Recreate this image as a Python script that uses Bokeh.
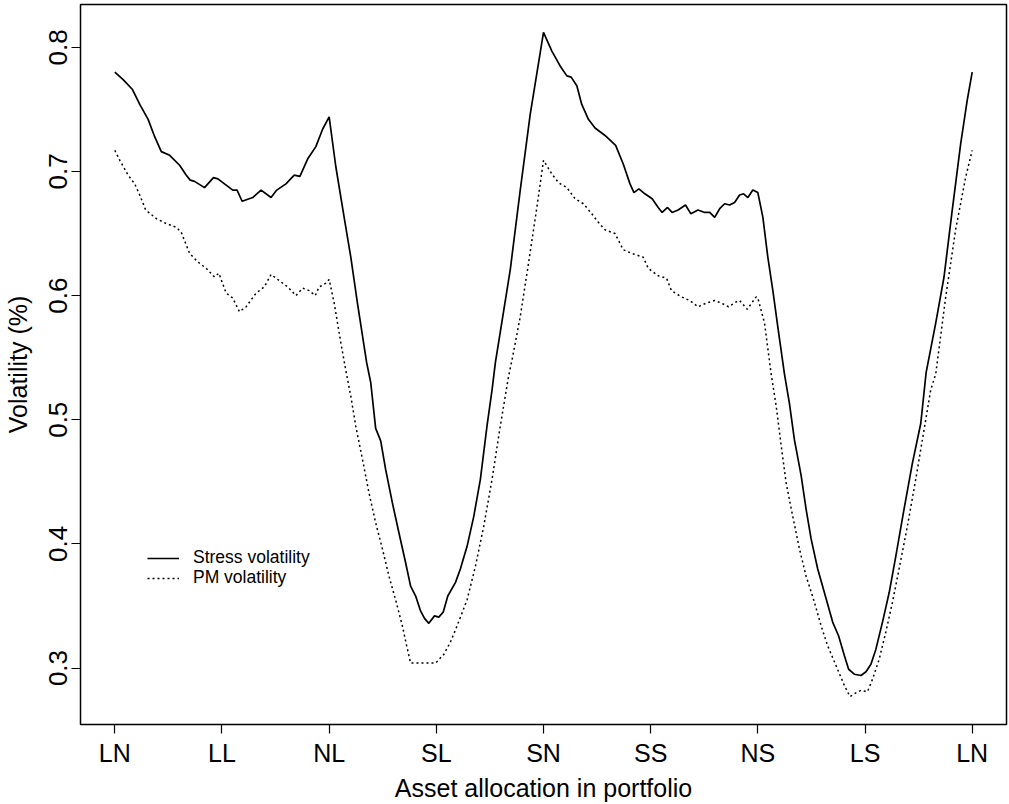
from bokeh.plotting import figure
from bokeh.models import Range1d, FixedTicker, Legend, LegendItem
from bokeh.embed import file_html
from bokeh.resources import INLINE

# Portfolio allocations along the path (tick positions 0..8)
allocations = ["LN", "LL", "NL", "SL", "SN", "SS", "NS", "LS", "LN"]
y_ticks = [0.3, 0.4, 0.5, 0.6, 0.7, 0.8]

# Stress volatility along the allocation path
stress_x = [0.0, 0.078, 0.165, 0.233, 0.311, 0.372, 0.434, 0.512, 0.605, 0.667,
            0.704, 0.744, 0.837, 0.921, 0.962, 1.039, 1.101, 1.141, 1.188, 1.287,
            1.365, 1.458, 1.511, 1.597, 1.674, 1.727, 1.799, 1.876, 1.939, 2.0,
            2.062, 2.140, 2.202, 2.264, 2.35, 2.388, 2.434, 2.481, 2.527, 2.590,
            2.651, 2.713, 2.760, 2.807, 2.853, 2.890, 2.930, 2.983, 3.023, 3.064,
            3.107, 3.179, 3.225, 3.287, 3.349, 3.411, 3.473, 3.520, 3.551, 3.690,
            3.783, 3.876, 4.0, 4.078, 4.155, 4.218, 4.258, 4.311, 4.357, 4.419,
            4.481, 4.574, 4.636, 4.673, 4.744, 4.807, 4.844, 4.890, 4.946, 5.014,
            5.070, 5.107, 5.157, 5.200, 5.256, 5.325, 5.374, 5.442, 5.504, 5.551,
            5.597, 5.644, 5.690, 5.737, 5.783, 5.830, 5.867, 5.907, 5.953, 6.0,
            6.047, 6.093, 6.140, 6.186, 6.248, 6.295, 6.341, 6.404, 6.450, 6.497,
            6.558, 6.620, 6.698, 6.753, 6.807, 6.847, 6.900, 6.962, 7.009, 7.055,
            7.101, 7.163, 7.226, 7.287, 7.364, 7.442, 7.520, 7.57, 7.660, 7.737,
            7.814, 7.892, 7.953, 8.0]
stress_vol = [0.780, 0.774, 0.766, 0.754, 0.742, 0.728, 0.716, 0.713, 0.705, 0.697,
              0.693, 0.692, 0.687, 0.695, 0.694, 0.689, 0.685, 0.685, 0.676, 0.679,
              0.685, 0.679, 0.685, 0.690, 0.697, 0.696, 0.710, 0.720, 0.734, 0.744,
              0.704, 0.663, 0.631, 0.594, 0.546, 0.530, 0.493, 0.483, 0.460, 0.433,
              0.409, 0.385, 0.366, 0.358, 0.346, 0.340, 0.336, 0.342, 0.341, 0.345,
              0.358, 0.369, 0.380, 0.398, 0.422, 0.452, 0.495, 0.524, 0.546, 0.621,
              0.685, 0.746, 0.812, 0.797, 0.785, 0.777, 0.776, 0.769, 0.754, 0.742,
              0.735, 0.729, 0.724, 0.721, 0.706, 0.690, 0.683, 0.686, 0.682, 0.678,
              0.671, 0.667, 0.671, 0.667, 0.669, 0.673, 0.666, 0.669, 0.667, 0.667,
              0.663, 0.670, 0.674, 0.673, 0.675, 0.681, 0.682, 0.679, 0.685, 0.683,
              0.663, 0.631, 0.604, 0.575, 0.537, 0.513, 0.484, 0.455, 0.428, 0.404,
              0.380, 0.361, 0.337, 0.326, 0.310, 0.299, 0.295, 0.294, 0.297, 0.303,
              0.315, 0.337, 0.361, 0.390, 0.428, 0.465, 0.497, 0.538, 0.578, 0.615,
              0.669, 0.722, 0.757, 0.780]

# PM volatility along the allocation path
pm_x = [0.0, 0.047, 0.125, 0.186, 0.233, 0.288, 0.388, 0.481, 0.574, 0.620,
        0.698, 0.776, 0.853, 0.930, 0.971, 1.039, 1.101, 1.163, 1.225, 1.318,
        1.395, 1.458, 1.535, 1.613, 1.690, 1.753, 1.814, 1.870, 1.907, 1.969,
        2.0, 2.047, 2.109, 2.155, 2.202, 2.248, 2.311, 2.372, 2.434, 2.497,
        2.558, 2.620, 2.683, 2.723, 2.760, 2.853, 2.993, 3.070, 3.132, 3.194,
        3.287, 3.365, 3.442, 3.520, 3.597, 3.674, 3.706, 3.783, 3.860, 3.938,
        4.0, 4.078, 4.140, 4.218, 4.295, 4.372, 4.450, 4.512, 4.574, 4.667,
        4.744, 4.822, 4.930, 4.977, 5.070, 5.148, 5.194, 5.287, 5.365, 5.442,
        5.520, 5.597, 5.660, 5.727, 5.799, 5.830, 5.901, 5.985, 6.0, 6.062,
        6.124, 6.171, 6.218, 6.264, 6.326, 6.388, 6.450, 6.528, 6.590, 6.651,
        6.729, 6.807, 6.860, 6.915, 6.962, 7.023, 7.070, 7.132, 7.194, 7.256,
        7.318, 7.395, 7.473, 7.551, 7.613, 7.660, 7.753, 7.845, 7.938, 8.0]
pm_vol = [0.717, 0.709, 0.697, 0.690, 0.681, 0.669, 0.662, 0.658, 0.655, 0.651,
          0.634, 0.627, 0.622, 0.615, 0.618, 0.602, 0.598, 0.587, 0.591, 0.602,
          0.607, 0.617, 0.612, 0.607, 0.600, 0.606, 0.604, 0.600, 0.607, 0.610,
          0.613, 0.594, 0.562, 0.540, 0.519, 0.495, 0.468, 0.441, 0.417, 0.396,
          0.374, 0.355, 0.334, 0.318, 0.304, 0.304, 0.304, 0.311, 0.321, 0.334,
          0.355, 0.382, 0.414, 0.452, 0.495, 0.535, 0.548, 0.583, 0.626, 0.671,
          0.709, 0.698, 0.691, 0.687, 0.678, 0.674, 0.666, 0.659, 0.653, 0.650,
          0.637, 0.634, 0.631, 0.622, 0.616, 0.614, 0.604, 0.599, 0.596, 0.591,
          0.594, 0.596, 0.594, 0.591, 0.595, 0.596, 0.589, 0.599, 0.598, 0.578,
          0.537, 0.511, 0.479, 0.449, 0.422, 0.396, 0.374, 0.353, 0.334, 0.318,
          0.302, 0.286, 0.277, 0.280, 0.282, 0.281, 0.291, 0.307, 0.329, 0.353,
          0.380, 0.414, 0.452, 0.492, 0.524, 0.537, 0.599, 0.653, 0.695, 0.717]

FONT = "Liberation Sans"

p = figure(width=1009, height=804, output_backend="svg", toolbar_location=None,
           x_range=Range1d(-0.32, 8.32), y_range=Range1d(0.2545, 0.8345),
           min_border_left=78, min_border_right=3, min_border_top=4,
           min_border_bottom=79, background_fill_color="white",
           border_fill_color="white")

p.xgrid.visible = False
p.ygrid.visible = False
p.outline_line_color = "black"
p.outline_line_width = 1.5
p.outline_line_alpha = 1.0

r_stress = p.line(stress_x, stress_vol, line_color="black", line_width=1.7)
r_pm = p.line(pm_x, pm_vol, line_color="black", line_width=1.5, line_dash="2 3")

# x axis: allocation labels
xa = p.xaxis[0]
xa.ticker = FixedTicker(ticks=list(range(len(allocations))))
xa.major_label_overrides = {i: name for i, name in enumerate(allocations)}
xa.axis_label = "Asset allocation in portfolio"
# y axis: volatility
ya = p.yaxis[0]
ya.ticker = FixedTicker(ticks=y_ticks)
ya.major_label_orientation = "vertical"
ya.axis_label = "Volatility (%)"

for ax in (xa, ya):
    ax.axis_line_color = None
    ax.major_tick_out = 9
    ax.major_tick_in = 0
    ax.major_tick_line_color = "black"
    ax.major_tick_line_width = 1.2
    ax.minor_tick_line_color = None
    ax.major_label_text_font = FONT
    ax.major_label_text_color = "black"
    ax.axis_label_text_font = FONT
    ax.axis_label_text_font_size = "25px"
    ax.axis_label_text_font_style = "normal"
    ax.axis_label_text_color = "black"

xa.major_label_text_font_size = "25px"
ya.major_label_text_font_size = "26px"
xa.major_label_standoff = 5
xa.axis_label_standoff = 4
ya.major_label_standoff = 4
ya.axis_label_standoff = 15

# Two single-row legends so the rows can sit close together
legend_style = dict(orientation="vertical", border_line_color=None,
                    background_fill_alpha=0.0, label_text_font=FONT,
                    label_text_font_size="17.5px", label_text_color="black",
                    glyph_width=32, glyph_height=14, label_height=14,
                    label_standoff=14, spacing=0, padding=0, margin=0)
leg_stress = Legend(items=[LegendItem(label="Stress volatility", renderers=[r_stress])],
                    location=(67, 156), **legend_style)
leg_pm = Legend(items=[LegendItem(label="PM volatility", renderers=[r_pm])],
                location=(67, 136), **legend_style)
p.add_layout(leg_stress, "center")
p.add_layout(leg_pm, "center")

open("out.html", "w").write(file_html(p, INLINE))
